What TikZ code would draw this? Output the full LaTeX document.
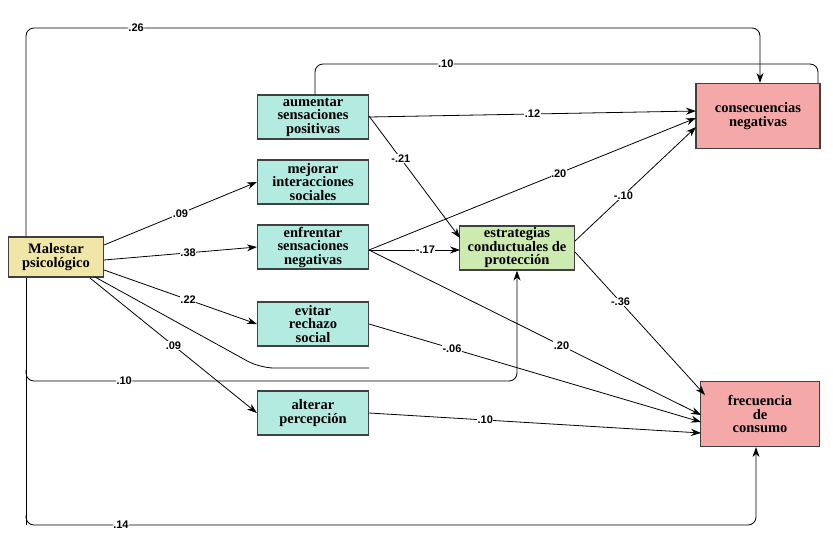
\documentclass[tikz,border=0pt]{standalone}
\usepackage{fontspec}
\setmainfont{Liberation Serif}
\newfontfamily\lab{Liberation Sans}
\usetikzlibrary{arrows.meta}
\definecolor{cy}{HTML}{F0E6A8}
\definecolor{ct}{HTML}{B3EBE0}
\definecolor{cg}{HTML}{CDEBB0}
\definecolor{cp}{HTML}{F4A9A8}
\begin{document}
\begin{tikzpicture}[x=1pt,y=-1pt,
 box/.style={draw=black!75,line width=1.2pt,align=center,font=\bfseries\fontsize{14.5}{13.5}\selectfont,inner sep=1pt},
 ar/.style={-{Stealth[length=10pt,width=7pt]},line width=0.8pt},
 ln/.style={line width=0.8pt},
 lb/.style={fill=white,inner sep=0.5pt,font=\lab\bfseries\fontsize{11}{12}\selectfont}]
\useasboundingbox (0,0) rectangle (833,555);
\node[box,fill=cy,minimum width=95pt,minimum height=40pt] (m) at (56,257) {Malestar\\psicológico};
\node[box,fill=ct,minimum width=111pt,minimum height=44pt] (a) at (313,117) {aumentar\\sensaciones\\positivas};
\node[box,fill=ct,minimum width=111pt,minimum height=44pt] (b) at (313,182) {mejorar\\interacciones\\sociales};
\node[box,fill=ct,minimum width=111pt,minimum height=44pt] (c) at (313,247) {enfrentar\\sensaciones\\negativas};
\node[box,fill=ct,minimum width=111pt,minimum height=44pt] (d) at (313,324) {evitar\\rechazo\\social};
\node[box,fill=ct,minimum width=111pt,minimum height=44pt] (e) at (313,413) {alterar\\percepción};
\node[box,fill=cg,minimum width=115pt,minimum height=44pt] (s) at (517,248) {estrategias\\conductuales de\\protección};
\node[box,fill=cp,minimum width=124pt,minimum height=65pt] (n) at (758,116) {consecuencias\\negativas};
\node[box,fill=cp,minimum width=119pt,minimum height=65pt] (f) at (760,414) {frecuencia\\de\\consumo};
% left trunk
\draw[ar,rounded corners=8pt] (m.north west-|26,0) -- (26,28) -- node[lb,pos=0.15]{.26} (760,28) -- (n.north-|760,0);
\draw[ln,rounded corners=8pt] (m.south west-|26,0) -- (26,525);
\draw[ar,rounded corners=8pt] (26,370) -- (26,381) -- node[lb,pos=0.2]{.10} (517,381) -- (s.south);
\draw[ar,rounded corners=8pt] (26,515) -- (26,525) -- node[lb,pos=0.13]{.14} (756,525) -- (f.south-|756,0);
\draw[ln,rounded corners=8pt] (a.north-|315,0) -- (315,64) -- node[lb,pos=0.26]{.10} (818,64) -- (n.north-|818,0);
\draw[ln,rounded corners=14pt] (95,277) -- (260,368) -- (369,368);
% from malestar
\draw[ar] (104,245) -- node[lb,pos=0.5]{.09} (b.west);
\draw[ar] (104,260) -- node[lb,pos=0.55]{.38} (c.west);
\draw[ar] (104,270) -- node[lb,pos=0.55]{.22} (d.west);
\draw[ar] (90,278) -- node[lb,pos=0.5]{.09} (e.west);
% from aumentar
\draw[ar] (a.east) -- node[lb,pos=0.5]{.12} (696,111);
\draw[ar] (369,116) -- node[lb,pos=0.35]{-.21} (460,238);
% from enfrentar
\draw[ar] (369,250) -- node[lb,pos=0.58]{.20} (696,118);
\draw[ar] (369,250) -- node[lb,pos=0.62]{-.17} (460,250);
\draw[ar] (369,250) -- node[lb,pos=0.58]{.20} (701,415);
% from estrategias
\draw[ar] (575,241) -- node[lb,pos=0.4]{-.10} (696,127);
\draw[ar] (575,252) -- node[lb,pos=0.35]{-.36} (705,395);
\draw[ar] (369,324) -- node[lb,pos=0.25]{-.06} (701,422);
\draw[ar] (e.east) -- node[lb,pos=0.35]{.10} (701,433);
\end{tikzpicture}
\end{document}
